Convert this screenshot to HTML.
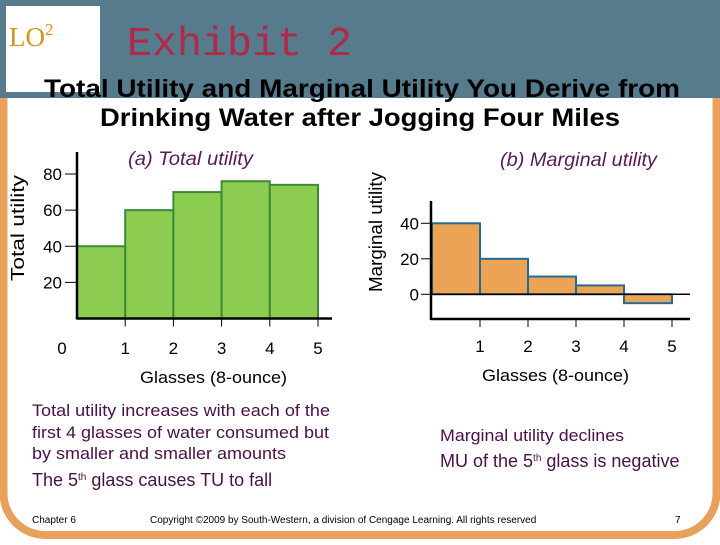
<!DOCTYPE html>
<html><head><meta charset="utf-8"><style>
body{margin:0;width:720px;height:540px;overflow:hidden;background:#fff;font-family:"Liberation Sans",sans-serif;}
</style></head><body>
<svg width="720" height="540" xmlns="http://www.w3.org/2000/svg">
<rect x="3.5" y="40" width="713" height="495" rx="42" fill="#fff" stroke="#e8a05a" stroke-width="8"/>
<rect x="0" y="0" width="720" height="98" fill="#567b8d"/>
<rect x="6" y="6" width="94" height="86" fill="#fff"/>
<text x="9" y="46" font-family="Liberation Serif,serif" font-size="27" fill="#d4941c">LO<tspan font-size="17" dy="-11">2</tspan></text>
<text x="127" y="55" font-family="Liberation Mono,monospace" font-size="41" fill="#b0284a" textLength="225" lengthAdjust="spacingAndGlyphs">Exhibit 2</text>
<text x="44" y="97" font-size="25" font-weight="bold" fill="#000" textLength="636" lengthAdjust="spacingAndGlyphs">Total Utility and Marginal Utility You Derive from</text>
<text x="100" y="126" font-size="25" font-weight="bold" fill="#000" textLength="520" lengthAdjust="spacingAndGlyphs">Drinking Water after Jogging Four Miles</text>
<g id="ca"></g>
<g id="cb"></g>
<text x="24" y="228" transform="rotate(-90 24 228)" text-anchor="middle" font-size="18" fill="#000" textLength="106" lengthAdjust="spacingAndGlyphs">Total utility</text>
<text x="382" y="232" transform="rotate(-90 382 232)" text-anchor="middle" font-size="18" fill="#000" textLength="120" lengthAdjust="spacingAndGlyphs">Marginal utility</text>
<text x="128" y="165" font-size="19" font-style="italic" fill="#5a1a5a" textLength="125" lengthAdjust="spacingAndGlyphs">(a) Total utility</text>
<text x="500" y="166" font-size="19" font-style="italic" fill="#5a1a5a" textLength="157" lengthAdjust="spacingAndGlyphs">(b) Marginal utility</text>
<text x="140" y="383" font-size="17" fill="#000" textLength="147" lengthAdjust="spacingAndGlyphs">Glasses (8-ounce)</text>
<text x="482" y="381" font-size="17" fill="#000" textLength="147" lengthAdjust="spacingAndGlyphs">Glasses (8-ounce)</text>
<g font-size="17" fill="#4a1048">
<text x="32" y="416" textLength="298" lengthAdjust="spacingAndGlyphs">Total utility increases with each of the</text>
<text x="32" y="438" textLength="297" lengthAdjust="spacingAndGlyphs">first 4 glasses of water consumed but</text>
<text x="32" y="459" textLength="254" lengthAdjust="spacingAndGlyphs">by smaller and smaller amounts</text>
<text x="32" y="486" font-size="18">The 5<tspan font-size="10" dy="-6">th</tspan><tspan dy="6"> glass causes TU to fall</tspan></text>
</g>
<g font-size="17" fill="#4a1048">
<text x="440" y="441" textLength="184" lengthAdjust="spacingAndGlyphs">Marginal utility declines</text>
<text x="440" y="467" font-size="18">MU of the 5<tspan font-size="10" dy="-6">th</tspan><tspan dy="6"> glass is negative</tspan></text>
</g>
<text x="32" y="523" font-size="10" fill="#000">Chapter 6</text>
<text x="150" y="523" font-size="10" fill="#000">Copyright ©2009 by South-Western, a division of Cengage Learning.  All rights reserved</text>
<text x="675" y="523" font-size="10" fill="#000">7</text>
</svg>
<script>
const glasses=[1,2,3,4,5];
const totalUtility=[40,60,70,76,74];
const marginalUtility=[40,20,10,5,-5];
const tuTicks=[20,40,60,80];
const muTicks=[0,20,40];
const NS="http://www.w3.org/2000/svg";
function mk(p,t,a,txt){const e=document.createElementNS(NS,t);for(const k in a)e.setAttribute(k,a[k]);if(txt!==undefined)e.textContent=txt;p.appendChild(e);return e;}
const ca=document.getElementById('ca');
const xa=v=>77+48.2*v, ya=v=>318.5-1.806*v;
totalUtility.forEach((v,i)=>{
 const r=mk(ca,'rect',{x:xa(i),y:ya(v),width:xa(i+1)-xa(i),height:ya(0)-ya(v),fill:'#8ccc50',stroke:'#3e8a3a','stroke-width':2});
 
 
});
mk(ca,'line',{x1:xa(0),y1:152,x2:xa(0),y2:ya(0)+1,stroke:'#000','stroke-width':2.5});
mk(ca,'line',{x1:xa(0),y1:ya(0),x2:332,y2:ya(0),stroke:'#000','stroke-width':2.5});
tuTicks.forEach(t=>{
 mk(ca,'line',{x1:65,y1:ya(t),x2:xa(0),y2:ya(t),stroke:'#000','stroke-width':1});
 const l=mk(ca,'text',{x:62,y:ya(t)+6,'text-anchor':'end','font-size':17},t);
 
 
});
mk(ca,'text',{x:62,y:354,'text-anchor':'middle','font-size':17},'0');
glasses.forEach(g=>{
 mk(ca,'line',{x1:xa(g),y1:ya(0),x2:xa(g),y2:ya(0)+8,stroke:'#000','stroke-width':1});
 const l=mk(ca,'text',{x:xa(g),y:354,'text-anchor':'middle','font-size':17},g);
 
 
});
const cb=document.getElementById('cb');
const xb=v=>432+48*v, yb=v=>294.3-1.775*v;
marginalUtility.forEach((v,i)=>{
 const r=mk(cb,'rect',{x:xb(i),y:Math.min(yb(v),yb(0)),width:48,height:Math.abs(yb(0)-yb(v)),fill:'#eba456',stroke:'#2a6a8e','stroke-width':2});
 
 
});
mk(cb,'line',{x1:431,y1:201,x2:431,y2:320,stroke:'#000','stroke-width':2.5});
mk(cb,'line',{x1:431,y1:yb(0),x2:690,y2:yb(0),stroke:'#000','stroke-width':1.5});
mk(cb,'line',{x1:431,y1:319,x2:690,y2:319,stroke:'#000','stroke-width':2.5});
muTicks.forEach(t=>{
 mk(cb,'line',{x1:421,y1:yb(t),x2:431,y2:yb(t),stroke:'#000','stroke-width':1});
 const l=mk(cb,'text',{x:419,y:yb(t)+6,'text-anchor':'end','font-size':17},t);
 
 
});
glasses.forEach(g=>{
 mk(cb,'line',{x1:xb(g),y1:319,x2:xb(g),y2:327,stroke:'#000','stroke-width':1});
 const l=mk(cb,'text',{x:xb(g),y:352,'text-anchor':'middle','font-size':17},g);
 
 
});
</script>
</body></html>
